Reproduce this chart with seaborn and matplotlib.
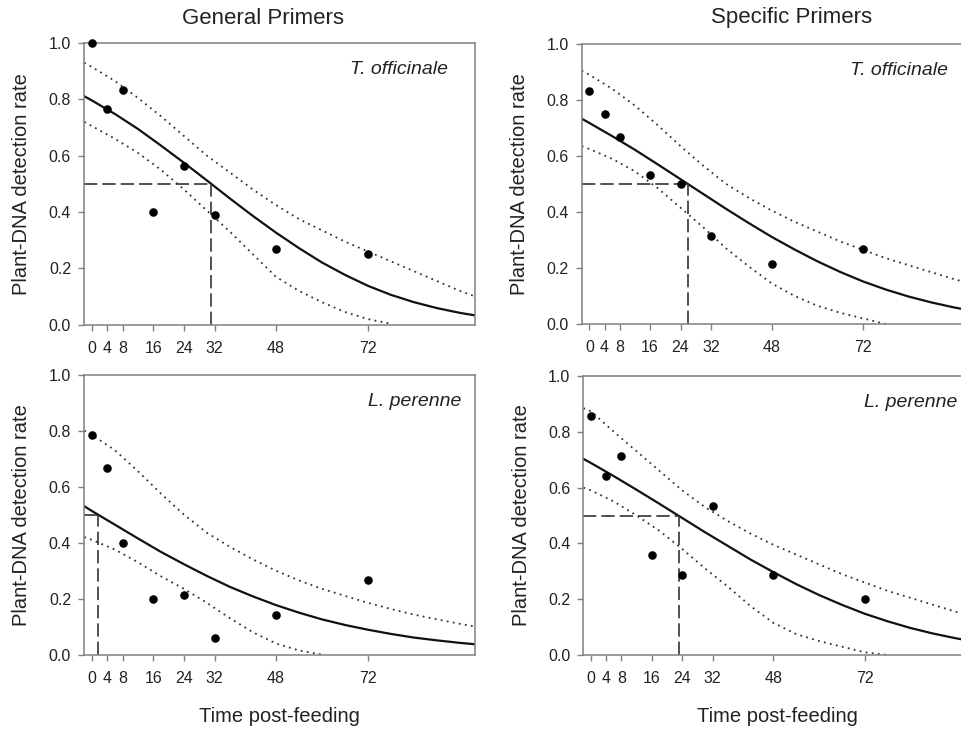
import numpy as np
import pandas as pd
import matplotlib
matplotlib.use("Agg")
import matplotlib.pyplot as plt
from matplotlib.ticker import FormatStrFormatter
import seaborn as sns

# sampling times (hours post-feeding) and observed detection rates
HOURS = [0, 4, 8, 16, 24, 32, 48, 72]
GEN_TOFF = [1.0, 0.765, 0.833, 0.40, 0.5625, 0.389, 0.267, 0.25]
SPEC_TOFF = [0.833, 0.75, 0.667, 0.533, 0.50, 0.3125, 0.214, 0.267]
GEN_LPER = [0.786, 0.667, 0.40, 0.20, 0.214, 0.059, 0.143, 0.267]
SPEC_LPER = [0.857, 0.643, 0.714, 0.357, 0.286, 0.533, 0.286, 0.20]

# fitted curve and confidence band
FIT_T = [-2, 0, 6, 12, 18, 24, 30, 36, 42, 48, 54, 60, 66, 72, 78, 84, 90, 96, 100]
nan = np.nan

GEN_TOFF_FIT = [0.811, 0.796, 0.748, 0.695, 0.636, 0.575, 0.512, 0.448, 0.386, 0.327,
                0.272, 0.221, 0.177, 0.138, 0.106, 0.080, 0.059, 0.042, 0.033]
GEN_TOFF_UP = [0.93, 0.915, 0.865, 0.805, 0.74, 0.67, 0.60, 0.54, 0.48, 0.425,
               0.375, 0.335, 0.295, 0.26, 0.225, 0.19, 0.155, 0.12, 0.10]
GEN_TOFF_LO = [0.72, 0.705, 0.66, 0.61, 0.55, 0.48, 0.405, 0.33, 0.25, 0.17,
               0.12, 0.08, 0.045, 0.02, 0.003, nan, nan, nan, nan]

SPEC_TOFF_FIT = [0.733, 0.718, 0.671, 0.622, 0.570, 0.517, 0.464, 0.411, 0.360, 0.311,
                 0.266, 0.224, 0.186, 0.152, 0.123, 0.098, 0.077, 0.059, 0.049]
SPEC_TOFF_UP = [0.905, 0.89, 0.84, 0.78, 0.71, 0.635, 0.565, 0.50, 0.45, 0.405,
                0.365, 0.33, 0.295, 0.265, 0.235, 0.21, 0.185, 0.16, 0.145]
SPEC_TOFF_LO = [0.635, 0.625, 0.59, 0.545, 0.485, 0.415, 0.345, 0.27, 0.205, 0.145,
                0.10, 0.065, 0.04, 0.02, 0.0, nan, nan, nan, nan]

GEN_LPER_FIT = [0.530, 0.513, 0.464, 0.415, 0.367, 0.323, 0.281, 0.242, 0.208, 0.177,
                0.150, 0.126, 0.106, 0.089, 0.074, 0.061, 0.051, 0.042, 0.037]
GEN_LPER_UP = [0.80, 0.785, 0.73, 0.655, 0.575, 0.50, 0.435, 0.385, 0.34, 0.30,
               0.265, 0.235, 0.21, 0.185, 0.163, 0.143, 0.126, 0.11, 0.10]
GEN_LPER_LO = [0.42, 0.41, 0.375, 0.33, 0.28, 0.235, 0.185, 0.13, 0.08, 0.04,
               0.015, 0.0, nan, nan, nan, nan, nan, nan, nan]

SPEC_LPER_FIT = [0.703, 0.688, 0.641, 0.592, 0.542, 0.491, 0.440, 0.391, 0.342, 0.297,
                 0.254, 0.215, 0.180, 0.148, 0.121, 0.097, 0.077, 0.060, 0.050]
SPEC_LPER_UP = [0.885, 0.873, 0.80, 0.73, 0.66, 0.59, 0.53, 0.48, 0.435, 0.395,
                0.36, 0.325, 0.29, 0.26, 0.23, 0.205, 0.18, 0.155, 0.14]
SPEC_LPER_LO = [0.60, 0.59, 0.55, 0.50, 0.445, 0.38, 0.31, 0.245, 0.175, 0.115,
                0.075, 0.05, 0.03, 0.01, 0.0, nan, nan, nan, nan]

# time at which the fitted rate drops to 0.5
LT50 = [31.1, 25.9, 1.6, 23.2]
SPECIES = ["T. officinale", "T. officinale", "L. perenne", "L. perenne"]
TITLES = ["General Primers", "Specific Primers"]
Y_TICKS = [0.0, 0.2, 0.4, 0.6, 0.8, 1.0]
XMIN, XMAX = -2, 100

SPINE = "#808080"
TXT = "#222222"


def draw_panel(ax, points, fit, upper, lower, lt50, species, sx, bottom):
    pts = pd.DataFrame({"t": HOURS, "rate": points})
    curves = pd.DataFrame({"t": FIT_T, "fit": fit, "upper": upper, "lower": lower})

    sns.lineplot(data=curves, x="t", y="fit", ax=ax, color="#111111", lw=1.6,
                 estimator=None, sort=False)
    for col in ["upper", "lower"]:
        sns.lineplot(data=curves, x="t", y=col, ax=ax, color="#333333", lw=1.3,
                     linestyle=(0, (1, 2.4)), estimator=None, sort=False)

    ax.hlines(0.5, XMIN, lt50, color="#333333", lw=1.2, linestyles=(0, (8, 3)))
    ax.vlines(lt50, 0, 0.5, color="#333333", lw=1.2, linestyles=(0, (8, 3)))

    sns.scatterplot(data=pts, x="t", y="rate", ax=ax, color="black", s=38,
                    linewidth=0, zorder=5, clip_on=False)

    ax.set_xlim(XMIN, XMAX)
    ax.set_ylim(0, 1)
    ax.set_xticks(HOURS)
    ax.set_yticks(Y_TICKS)
    ax.yaxis.set_major_formatter(FormatStrFormatter("%.1f"))
    ax.tick_params(direction="out", length=4.5, width=1, color=SPINE,
                   labelsize=11.5, labelcolor=TXT)
    ax.tick_params(axis="x", pad=7)
    ax.tick_params(axis="y", pad=5)
    for sp in ax.spines.values():
        sp.set_color(SPINE)
        sp.set_linewidth(1.1)

    ax.text(sx, 0.905, species, style="italic", ha="right", va="center",
            fontsize=14, color=TXT)

    ax.set_ylabel("Plant-DNA detection rate", fontsize=14.5, color=TXT)
    ax.yaxis.set_label_coords(-0.16, 0.5)
    ax.yaxis.label.set_va("center")
    if bottom:
        ax.set_xlabel("Time post-feeding", fontsize=14.5, color=TXT)
        ax.xaxis.set_label_coords(0.5, -0.22)
        ax.xaxis.label.set_va("center")
    else:
        ax.set_xlabel("")


def main():
    sns.set_theme(style="ticks")
    plt.rcParams["font.family"] = ["Liberation Sans", "DejaVu Sans"]

    fig = plt.figure(figsize=(9.62, 7.29), dpi=100)
    positions = [
        [0.0876, 0.5546, 0.4064, 0.3864],
        [0.6047, 0.5556, 0.4029, 0.3841],
        [0.0876, 0.1020, 0.4064, 0.3841],
        [0.6065, 0.1015, 0.4029, 0.3827],
    ]
    data = [
        (GEN_TOFF, GEN_TOFF_FIT, GEN_TOFF_UP, GEN_TOFF_LO, 93.0, False),
        (SPEC_TOFF, SPEC_TOFF_FIT, SPEC_TOFF_UP, SPEC_TOFF_LO, 94.5, False),
        (GEN_LPER, GEN_LPER_FIT, GEN_LPER_UP, GEN_LPER_LO, 96.5, True),
        (SPEC_LPER, SPEC_LPER_FIT, SPEC_LPER_UP, SPEC_LPER_LO, 96.5, True),
    ]
    for i, (pos, (pts, fit, up, lo, sx, bottom)) in enumerate(zip(positions, data)):
        ax = fig.add_axes(pos)
        draw_panel(ax, pts, fit, up, lo, LT50[i], SPECIES[i], sx, bottom)

    fig.text(263 / 962, 1 - 18 / 729, TITLES[0], ha="center", va="center",
             fontsize=16, color=TXT)
    fig.text(792 / 962, 1 - 18 / 729, TITLES[1], ha="center", va="center",
             fontsize=16, color=TXT)

    fig.savefig("out.png", dpi=100)


if __name__ == "__main__":
    main()
